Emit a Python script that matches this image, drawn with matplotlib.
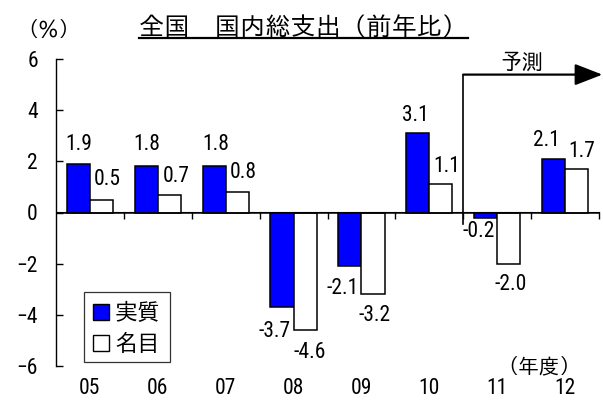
import matplotlib
matplotlib.use("Agg")
import matplotlib.pyplot as plt
from matplotlib.patches import Patch, FancyArrowPatch
from matplotlib.lines import Line2D
import numpy as np

# --- data -------------------------------------------------------------
years = ["05", "06", "07", "08", "09", "10", "11", "12"]
real_growth = [1.9, 1.8, 1.8, -3.7, -2.1, 3.1, -0.2, 2.1]      # 実質
nominal_growth = [0.5, 0.7, 0.8, -4.6, -3.2, 1.1, -2.0, 1.7]   # 名目
y_ticks = [-6, -4, -2, 0, 2, 4, 6]
forecast_start = 6  # index of first forecast year (11)

# label offsets (pixels) relative to the end of each bar
real_label_offsets = [(0, 19), (0, 22), (2, 22), (-7, -24), (-7, -22), (-2, 18), (-7, -14), (-7, 18)]
nominal_label_offsets = [(6, 20), (7, 18), (6, 20), (5, -22), (2, -21), (6, 18), (2, -21), (5, 18)]

# --- fonts ------------------------------------------------------------
jp_font = ["IPAGothic", "Noto Sans CJK JP", "DejaVu Sans"]
num_font = ["Roboto Condensed", "IPAGothic", "DejaVu Sans"]
plt.rcParams["font.family"] = num_font
plt.rcParams["axes.unicode_minus"] = False

fig = plt.figure(figsize=(6.03, 4.07), dpi=100)
W, H = 603, 407
ax = fig.add_axes([56 / W, 41 / H, 543 / W, 307 / H])

x = np.arange(len(years))
bw = 0.34
blue = "#0000FF"
ax.bar(x - bw / 2, real_growth, width=bw, color=blue, edgecolor="black", linewidth=1.1, zorder=3)
ax.bar(x + bw / 2, nominal_growth, width=bw, color="white", edgecolor="black", linewidth=1.1, zorder=3)

ax.set_xlim(-0.5, len(years) - 0.5)
ax.set_ylim(-6, 6)

# spines: only the left one, zero line drawn separately
for side in ["top", "right", "bottom"]:
    ax.spines[side].set_visible(False)
ax.spines["left"].set_linewidth(1.0)
ax.axhline(0, color="black", linewidth=1.1, zorder=4)

ax.set_yticks(y_ticks)
ax.set_yticklabels(["\u2212" + str(-t) if t < 0 else str(t) for t in y_ticks])
ax.tick_params(axis="y", direction="in", length=5, width=1.0, pad=13, labelsize=15.5)

ax.set_xticks(x)
ax.set_xticklabels(years)
ax.tick_params(axis="x", length=0, pad=9, labelsize=15.5)

# boundary ticks along the zero line
sec = ax.secondary_xaxis(0.5)
sec.set_xticks(np.arange(len(years)) + 0.5)
sec.set_xticklabels([])
sec.tick_params(axis="x", direction="in", length=5, width=1.0)
sec.spines["bottom"].set_visible(False)

# value labels
for i, v in enumerate(real_growth):
    dx, dy = real_label_offsets[i]
    ax.annotate(f"{v:.1f}", xy=(x[i] - bw / 2, v), xytext=(dx, dy), textcoords="offset pixels",
                ha="center", va="center", fontsize=15.5, annotation_clip=False, zorder=5)
for i, v in enumerate(nominal_growth):
    dx, dy = nominal_label_offsets[i]
    ax.annotate(f"{v:.1f}", xy=(x[i] + bw / 2, v), xytext=(dx, dy), textcoords="offset pixels",
                ha="center", va="center", fontsize=15.5, annotation_clip=False, zorder=5)

# forecast marker: divider and arrow
xb = forecast_start - 0.5
ax.plot([xb, xb], [-0.45, 5.39], color="black", linewidth=1.2, clip_on=False, zorder=4)
arrow = FancyArrowPatch((xb, 5.39), (len(years) - 0.45, 5.39),
                        arrowstyle="-|>,head_length=0.85,head_width=0.33",
                        mutation_scale=20, color="black", linewidth=1.6,
                        shrinkA=0, shrinkB=0, clip_on=False, zorder=4)
ax.add_patch(arrow)
ax.text(6.36, 5.92, "予測", ha="center", va="center", fontsize=15.5, family=jp_font)

# legend
handles = [Patch(facecolor=blue, edgecolor="black", linewidth=1.0),
           Patch(facecolor="white", edgecolor="black", linewidth=1.0)]
leg = ax.legend(handles, ["実質", "名目"], loc="upper left",
                bbox_to_anchor=((84 - 56) / 543, (366 - 292) / 307), borderaxespad=0,
                frameon=True, fancybox=False, edgecolor="black",
                handlelength=0.7, handleheight=0.7, handletextpad=0.25,
                labelspacing=0.4, borderpad=0.4, prop={"family": jp_font, "size": 16.5})
leg.get_frame().set_linewidth(0.9)

# titles and unit labels
title = fig.text(303.5 / W, 1 - 26 / H, "全国　国内総支出（前年比）", ha="center", va="center",
                 fontsize=18.2, family=jp_font)
fig.text(48.5 / W, 1 - 29 / H, "（％）", ha="center", va="center", fontsize=15, family=jp_font)
fig.text(539 / W, 1 - 367 / H, "（年度）", ha="center", va="center", fontsize=15, family=jp_font)

# underline beneath the title
fig.canvas.draw()
bb = title.get_window_extent(fig.canvas.get_renderer())
uy = 1 - 38 / H
fig.add_artist(Line2D([bb.x0 / W, bb.x1 / W], [uy, uy], transform=fig.transFigure,
                      color="black", linewidth=1.6))

fig.savefig("out.png", dpi=100)
